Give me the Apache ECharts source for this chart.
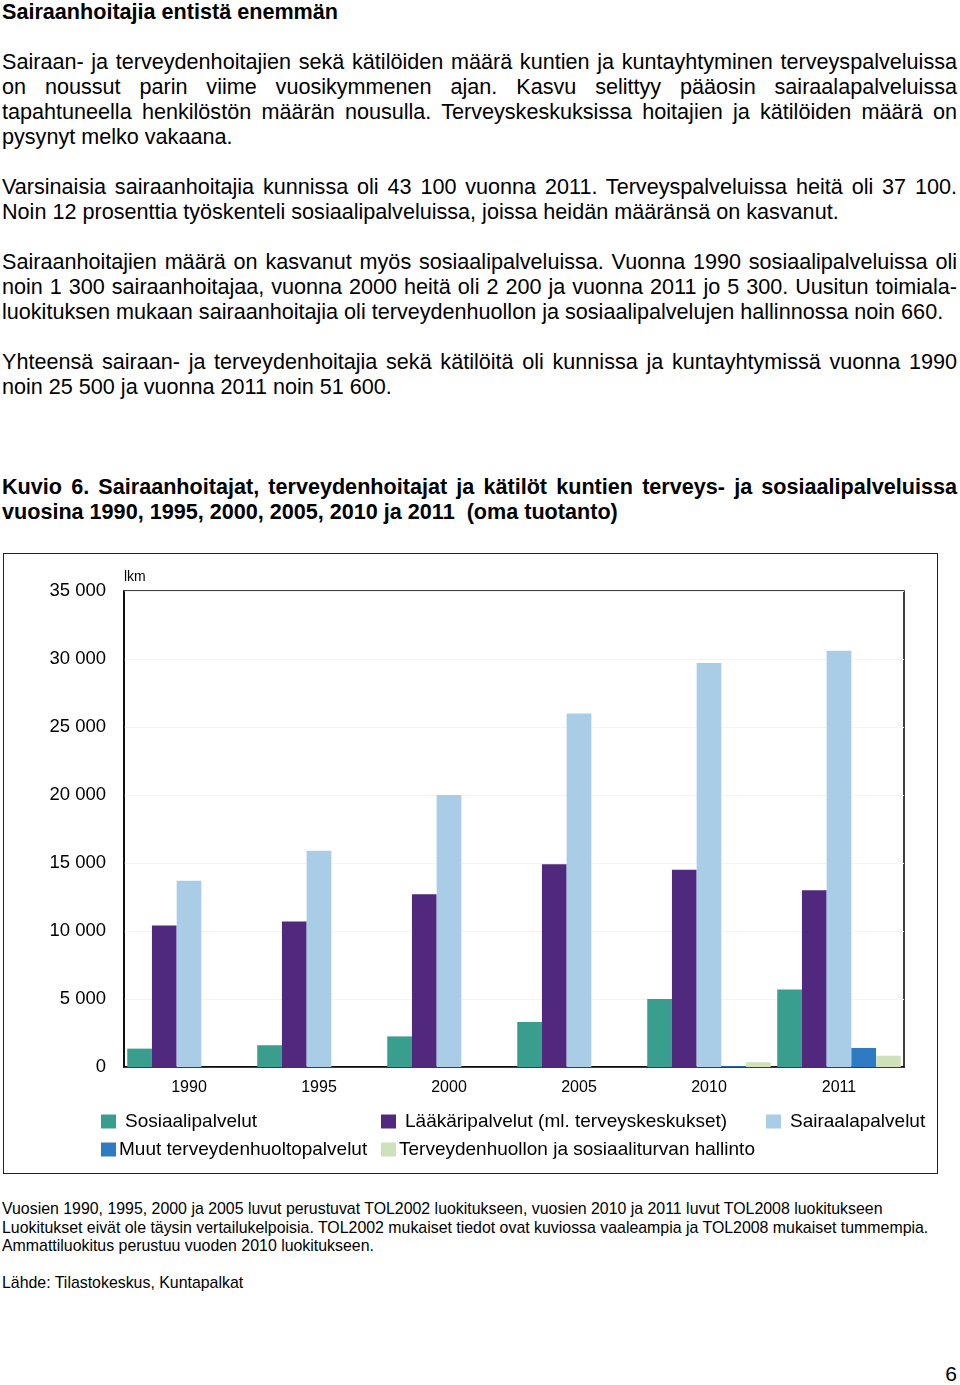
<!DOCTYPE html>
<html><head><meta charset="utf-8">
<script src="https://cdn.jsdelivr.net/npm/echarts@6/dist/echarts.min.js"></script>
<style>
html,body{margin:0;padding:0;background:#fff;}
body{width:960px;height:1385px;position:relative;font-family:"Liberation Sans",Arial,sans-serif;color:#000;overflow:hidden;}
#text{position:absolute;left:2px;top:-1px;width:955px;font-size:21.6px;line-height:25px;}
.l{height:25px;white-space:nowrap;}
.j{text-align:justify;text-align-last:justify;white-space:normal;}
.b{font-weight:bold;}
#chart{position:absolute;left:3px;top:553px;width:933px;height:619px;border:1.5px solid #222;}
#notes{position:absolute;left:2px;top:1200px;font-size:15.9px;line-height:18.5px;}
#notes div{height:18.5px;white-space:nowrap;}
#pg{position:absolute;right:3px;top:1362px;font-size:21px;line-height:24px;}
</style></head>
<body>
<div id="text">
<div class="l b">Sairaanhoitajia entistä enemmän</div>
<div class="l"></div>
<div class="l j">Sairaan- ja terveydenhoitajien sekä kätilöiden määrä kuntien ja kuntayhtyminen terveyspalveluissa</div>
<div class="l j">on noussut parin viime vuosikymmenen ajan. Kasvu selittyy pääosin sairaalapalveluissa</div>
<div class="l j">tapahtuneella henkilöstön määrän nousulla. Terveyskeskuksissa hoitajien ja kätilöiden määrä on</div>
<div class="l">pysynyt melko vakaana.</div>
<div class="l"></div>
<div class="l j">Varsinaisia sairaanhoitajia kunnissa oli 43 100 vuonna 2011. Terveyspalveluissa heitä oli 37 100.</div>
<div class="l">Noin 12 prosenttia työskenteli sosiaalipalveluissa, joissa heidän määränsä on kasvanut.</div>
<div class="l"></div>
<div class="l j">Sairaanhoitajien määrä on kasvanut myös sosiaalipalveluissa. Vuonna 1990 sosiaalipalveluissa oli</div>
<div class="l j">noin 1 300 sairaanhoitajaa, vuonna 2000 heitä oli 2 200 ja vuonna 2011 jo 5 300. Uusitun toimiala-</div>
<div class="l">luokituksen mukaan sairaanhoitajia oli terveydenhuollon ja sosiaalipalvelujen hallinnossa noin 660.</div>
<div class="l"></div>
<div class="l j">Yhteensä sairaan- ja terveydenhoitajia sekä kätilöitä oli kunnissa ja kuntayhtymissä vuonna 1990</div>
<div class="l">noin 25 500 ja vuonna 2011 noin 51 600.</div>
<div class="l"></div>
<div class="l"></div>
<div class="l"></div>
<div class="l b j">Kuvio 6. Sairaanhoitajat, terveydenhoitajat ja kätilöt kuntien terveys- ja sosiaalipalveluissa</div>
<div class="l b">vuosina 1990, 1995, 2000, 2005, 2010 ja 2011&nbsp; (oma tuotanto)</div>
</div>
<div id="chart"></div>
<div id="notes">
<div>Vuosien 1990, 1995, 2000 ja 2005 luvut perustuvat TOL2002 luokitukseen, vuosien 2010 ja 2011 luvut TOL2008 luokitukseen</div>
<div>Luokitukset eivät ole täysin vertailukelpoisia. TOL2002 mukaiset tiedot ovat kuviossa vaaleampia ja TOL2008 mukaiset tummempia.</div>
<div>Ammattiluokitus perustuu vuoden 2010 luokitukseen.</div>
<div></div>
<div>Lähde: Tilastokeskus, Kuntapalkat</div>
</div>
<div id="pg">6</div>
<script>
const years = ['1990','1995','2000','2005','2010','2011'];
const seriesNames = ['Sosiaalipalvelut','Lääkäripalvelut (ml. terveyskeskukset)','Sairaalapalvelut','Muut terveydenhuoltopalvelut','Terveydenhuollon ja sosiaaliturvan hallinto'];
const sosiaali = [1350, 1600, 2250, 3300, 5000, 5700];
const laakari = [10400, 10700, 12700, 14900, 14500, 13000];
const sairaala = [13700, 15900, 20000, 26000, 29700, 30600];
const muut = [null, null, null, null, 60, 1400];
const hallinto = [null, null, null, null, 350, 830];
const yTicks = [0, 5000, 10000, 15000, 20000, 25000, 30000, 35000];
const colors = ['#3a9e8f','#50297f','#a9cde6','#2f7bc3','#cfe1b9'];

const FF = '"Liberation Sans", Arial, sans-serif';
const chart = echarts.init(document.getElementById('chart'));
const dataArr = [sosiaali, laakari, sairaala, muut, hallinto];
const legendPos = [
  {left: 97, top: 558, gap: 9},
  {left: 377, top: 558, gap: 9},
  {left: 762, top: 558, gap: 9},
  {left: 97, top: 586, gap: 3},
  {left: 377, top: 586, gap: 3}
];
chart.setOption({
  animation: false,
  textStyle: {fontFamily: FF},
  grid: {left: 120, top: 37, right: 33, bottom: 106, show: true, borderColor: '#000', borderWidth: 1.5, backgroundColor: 'transparent'},
  legend: seriesNames.map((n, i) => ({
    data: [n], left: legendPos[i].left, top: legendPos[i].top, padding: 0,
    itemWidth: 15, itemHeight: 14, itemGap: 0, icon: 'rect',
    selectedMode: false,
    textStyle: {fontSize: 19, color: '#000', fontFamily: FF, padding: [0, 0, 0, legendPos[i].gap - 5]}
  })),
  xAxis: {
    type: 'category', data: years,
    axisLine: {show: true, lineStyle: {color: '#000', width: 1.5}},
    axisTick: {show: false},
    axisLabel: {fontSize: 16, color: '#000', margin: 13, fontFamily: FF}
  },
  yAxis: {
    type: 'value', min: yTicks[0], max: yTicks[yTicks.length - 1], interval: 5000,
    name: 'lkm', nameLocation: 'end', nameGap: 14,
    nameTextStyle: {fontSize: 14, color: '#000', align: 'left', verticalAlign: 'middle', fontFamily: FF},
    axisLine: {show: true, lineStyle: {color: '#000', width: 1.5}},
    axisTick: {show: false},
    splitLine: {show: true, lineStyle: {color: '#f3f3f3', width: 1}},
    axisLabel: {fontSize: 18.5, color: '#000', margin: 18, fontFamily: FF,
      formatter: v => String(v).replace(/\B(?=(\d{3})+(?!\d))/g, ' ')}
  },
  series: seriesNames.map((n, i) => ({
    name: n, type: 'bar', data: dataArr[i],
    itemStyle: {color: colors[i]},
    barGap: '0%', barCategoryGap: '5%'
  }))
});
</script>
</body></html>
